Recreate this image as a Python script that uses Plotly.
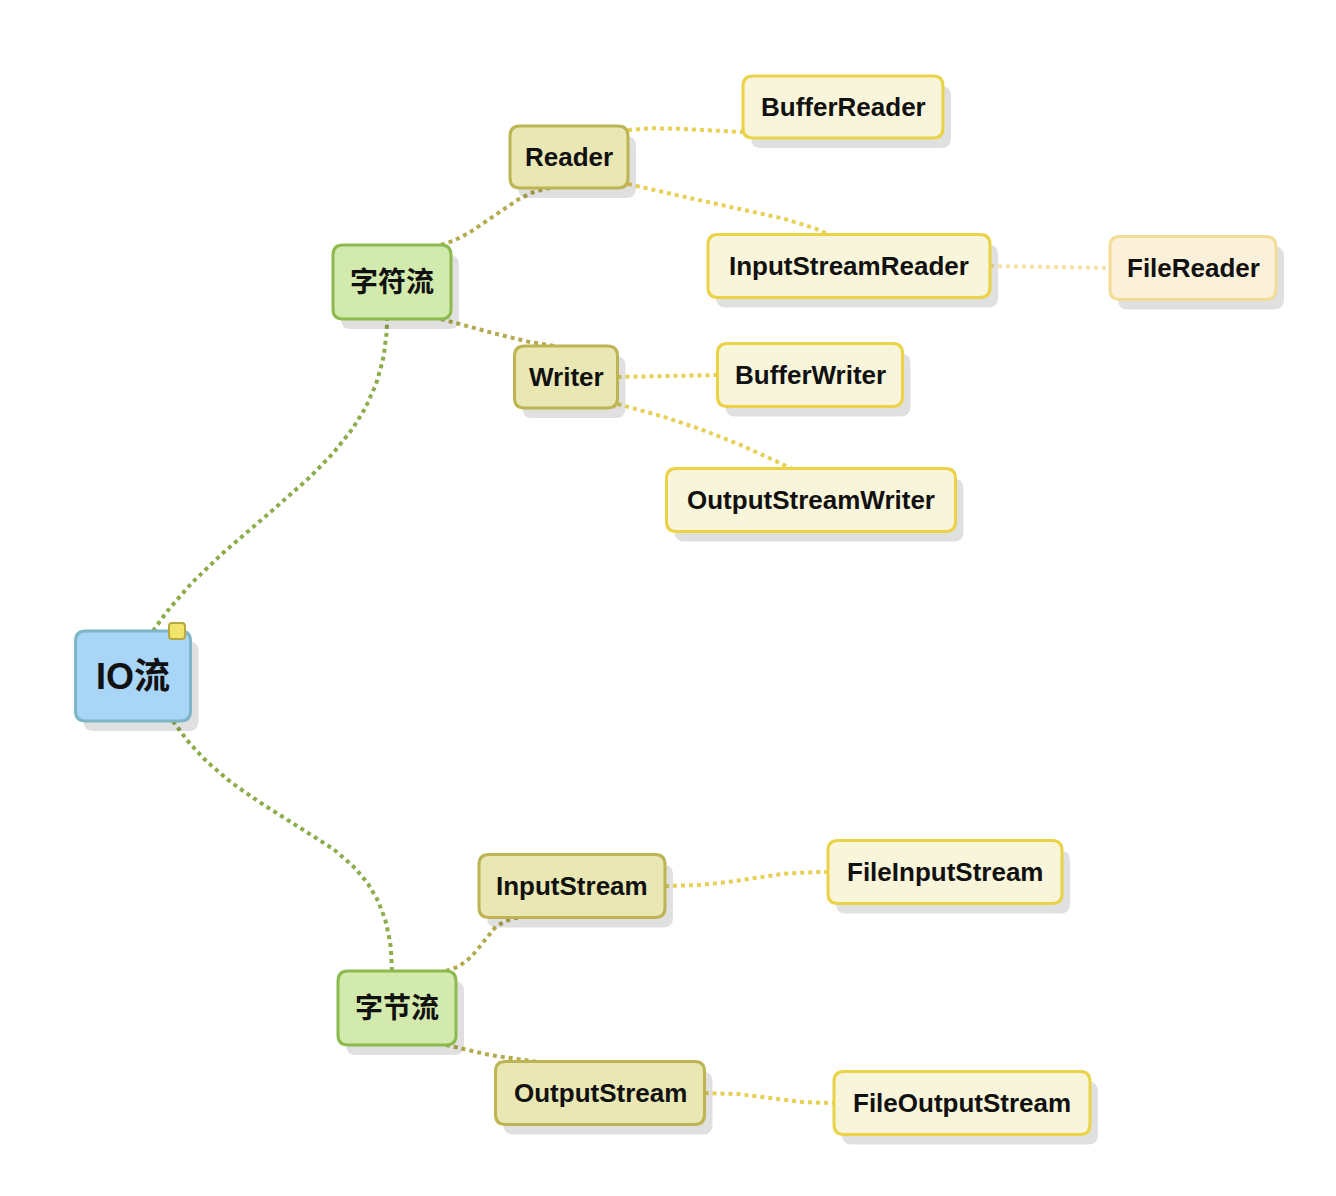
import numpy as np
import plotly.graph_objects as go

# mind map nodes (pixel coordinates of the page)
labels = ["IO流", "字符流", "字节流", "Reader", "Writer", "InputStream", "OutputStream",
          "BufferReader", "InputStreamReader", "FileReader", "BufferWriter",
          "OutputStreamWriter", "FileInputStream", "FileOutputStream"]
parents = [None, "IO流", "IO流", "字符流", "字符流", "字节流", "字节流",
           "Reader", "Reader", "InputStreamReader", "Writer", "Writer",
           "InputStream", "OutputStream"]
node_x = [125, 384, 389, 561, 558, 564, 592, 835, 841, 1185, 802, 803, 937, 954]
node_y = [668, 274, 1000, 149, 369, 878, 1085, 99, 258, 260, 367, 492, 864, 1095]
node_w = [115, 118, 118, 118, 103, 186, 209, 200, 282, 166, 185, 289, 234, 256]
node_h = [90, 74, 74, 62, 62, 63, 63, 62, 63, 63, 63, 63, 63, 63]
level = [0, 1, 1, 2, 2, 2, 2, 3, 3, 4, 3, 3, 3, 3]

fills = ["#a9d5f7", "#d3eaae", "#e9e7b3", "#f8f5da", "#fbf0da"]
borders = ["#7fb6c6", "#8cba4c", "#bdb553", "#ead347", "#f4dc98"]
edge_cols = ["#8cad4a", "#b3ab4d", "#e6d055", "#f4e3a8"]
font_size = [36, 28, 28, 26, 26, 26, 26, 26, 26, 26, 26, 26, 26, 26]


def rrect(x0, y0, x1, y1, r):
    return (f"M{x0+r},{y0} L{x1-r},{y0} Q{x1},{y0} {x1},{y0+r} L{x1},{y1-r} "
            f"Q{x1},{y1} {x1-r},{y1} L{x0+r},{y1} Q{x0},{y1} {x0},{y1-r} "
            f"L{x0},{y0+r} Q{x0},{y0} {x0+r},{y0} Z")


def bezier(p0, c1, c2, p1, n=60):
    t = np.linspace(0, 1, n)[:, None]
    pts = ((1-t)**3)*np.array(p0) + 3*((1-t)**2)*t*np.array(c1) \
        + 3*(1-t)*t*t*np.array(c2) + (t**3)*np.array(p1)
    return pts[:, 0], pts[:, 1]


fig = go.Figure()
idx = {l: i for i, l in enumerate(labels)}

for i, p in enumerate(parents):
    if p is None:
        continue
    j = idx[p]
    if level[j] == 0:
        sign = -1 if node_y[i] < node_y[j] else 1
        p0 = (node_x[j] + 20 * (1 if sign < 0 else 2), node_y[j] + sign * node_h[j] / 2)
        p1 = (node_x[i] - 5 + 0*sign, node_y[i] - sign * node_h[i] / 2)
        c1 = (p0[0] + 80, p0[1] + sign * 120)
        c2 = (p1[0], p1[1] - sign * 150)
    elif level[j] == 1:
        sign = -1 if node_y[i] < node_y[j] else 1
        p0 = (node_x[j] + node_w[j] / 2 - 10, node_y[j] + sign * node_h[j] / 2)
        p1 = (node_x[i] - node_w[i] / 2 + 40, node_y[i] - sign * node_h[i] / 2)
        c1 = (p0[0] + 40, p0[1] + sign * 10)
        c2 = (p1[0] - 40, p1[1] - sign * 5)
    else:
        p0 = (node_x[j] + node_w[j] / 2, node_y[j] + (0 if abs(node_y[i]-node_y[j]) < 40 else np.sign(node_y[i]-node_y[j]) * node_h[j] / 2 - np.sign(node_y[i]-node_y[j]) * 4))
        if abs(node_y[i] - node_y[j]) < 40:
            p1 = (node_x[i] - node_w[i] / 2, node_y[i])
            c1 = ((p0[0] + p1[0]) / 2, p0[1])
            c2 = ((p0[0] + p1[0]) / 2, p1[1])
        elif node_y[i] < node_y[j]:
            p1 = (node_x[i] - node_w[i] / 2, node_y[i] + 25)
            c1 = (p0[0] + 40, p0[1] - 5)
            c2 = (p1[0] - 40, p1[1])
        else:
            p1 = (node_x[i] - 20, node_y[i] - node_h[i] / 2)
            c1 = (p0[0] + 80, p0[1] + 20)
            c2 = (p1[0] - 40, p1[1] - 20)
    xs, ys = bezier(p0, c1, c2, p1)
    fig.add_trace(go.Scatter(x=xs, y=ys, mode="lines", hoverinfo="skip",
                             line=dict(color=edge_cols[min(level[j], 3)], width=4, dash="dot")))

for i, l in enumerate(labels):
    x0, x1 = node_x[i] - node_w[i] / 2, node_x[i] + node_w[i] / 2
    y0, y1 = node_y[i] - node_h[i] / 2, node_y[i] + node_h[i] / 2
    fig.add_shape(type="path", path=rrect(x0 + 8, y0 + 10, x1 + 8, y1 + 10, 10),
                  fillcolor="rgba(0,0,0,0.12)", line_width=0, layer="above")
    fig.add_shape(type="path", path=rrect(x0, y0, x1, y1, 10),
                  fillcolor=fills[level[i]], line=dict(color=borders[level[i]], width=3),
                  layer="above")
    fig.add_annotation(x=node_x[i], y=node_y[i], text=f"<b>{l}</b>", showarrow=False,
                       font=dict(size=font_size[i], color="#111",
                                 family="Liberation Sans, Noto Sans CJK SC, sans-serif"))

# small marker on the root
fig.add_shape(type="path", path=rrect(161, 615, 177, 631, 3), fillcolor="#f2e46a",
              line=dict(color="#b8a840", width=2), layer="above")

fig.update_xaxes(range=[0, 1336], visible=False)
fig.update_yaxes(range=[1196, 0], visible=False)
fig.update_layout(width=1336, height=1196, margin=dict(l=0, r=0, t=0, b=0),
                  plot_bgcolor="white", paper_bgcolor="white", showlegend=False)
fig.write_html("out.html")
